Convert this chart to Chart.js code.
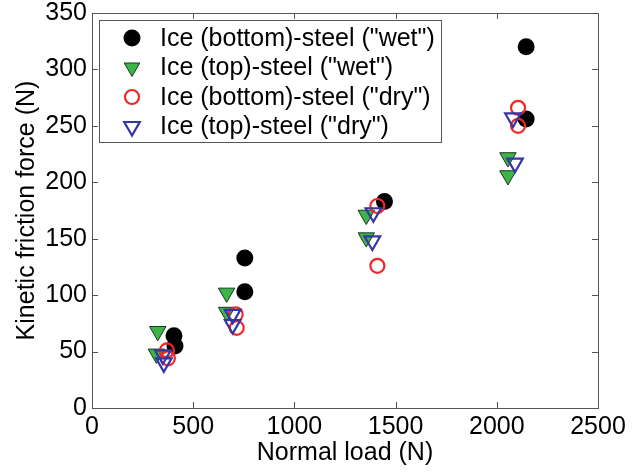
<!DOCTYPE html>
<html>
<head>
<meta charset="utf-8">
<script src="https://cdn.jsdelivr.net/npm/chart.js@4.4.0/dist/chart.umd.min.js"></script>
<style>
  html, body { margin: 0; padding: 0; background: #fff; }
  #wrap { width: 635px; height: 474px; }
</style>
</head>
<body>
<div id="wrap"><canvas id="frictionChart" width="635" height="474"></canvas></div>
<script>
// Data
const seriesNames = [
    'Ice (bottom)-steel ("wet")',
    'Ice (top)-steel ("wet")',
    'Ice (bottom)-steel ("dry")',
    'Ice (top)-steel ("dry")'
];
const bottomWetLoad = [405, 410, 755, 755, 1445, 2145, 2145];
const bottomWetForce = [64, 55, 133, 103, 183, 320, 256];
const topWetLoad = [325, 318, 665, 665, 1355, 1355, 2055, 2055];
const topWetForce = [68, 48, 102, 85, 171, 151, 222, 206];
const bottomDryLoad = [370, 375, 710, 715, 1410, 1410, 2105, 2105];
const bottomDryForce = [51, 44, 83, 71, 179, 126, 266, 250];
const topDryLoad = [350, 355, 695, 695, 1390, 1385, 2080, 2090];
const topDryForce = [47, 40, 83, 74, 173, 148, 257, 217];
const xTicks = [0, 500, 1000, 1500, 2000, 2500];
const yTicks = [0, 50, 100, 150, 200, 250, 300, 350];

const FONT = '"Liberation Sans", Arial, sans-serif';

function toPoints(xs, ys) {
    return xs.map((x, i) => ({ x: x, y: ys[i] }));
}

// inward ticks on all four sides plus the axes box
const boxTicks = {
    id: 'boxTicks',
    afterDatasetsDraw(chart) {
        const { ctx, chartArea: a, scales } = chart;
        const len = 6;
        ctx.save();
        ctx.strokeStyle = '#555';
        ctx.lineWidth = 1;
        ctx.beginPath();
        xTicks.forEach(v => {
            const px = Math.round(scales.x.getPixelForValue(v)) + 0.5;
            ctx.moveTo(px, a.bottom); ctx.lineTo(px, a.bottom - len);
            ctx.moveTo(px, a.top); ctx.lineTo(px, a.top + len);
        });
        yTicks.forEach(v => {
            const py = Math.round(scales.y.getPixelForValue(v)) + 0.5;
            ctx.moveTo(a.left, py); ctx.lineTo(a.left + len, py);
            ctx.moveTo(a.right, py); ctx.lineTo(a.right - len, py);
        });
        ctx.stroke();
        ctx.strokeRect(Math.round(a.left) + 0.5, Math.round(a.top) + 0.5,
            Math.round(a.right - a.left), Math.round(a.bottom - a.top));
        ctx.restore();
    }
};

// legend box in the upper left corner of the plot
const boxLegend = {
    id: 'boxLegend',
    afterDraw(chart) {
        const { ctx, chartArea: a } = chart;
        const bx = a.left + 7, by = a.top + 7, bw = 342, bh = 122;
        ctx.save();
        ctx.fillStyle = '#fff';
        ctx.fillRect(bx, by, bw, bh);
        ctx.strokeStyle = '#555';
        ctx.lineWidth = 1;
        ctx.strokeRect(Math.round(bx) + 0.5, Math.round(by) + 0.5, bw, bh);
        ctx.font = '25px ' + FONT;
        ctx.textBaseline = 'middle';
        ctx.textAlign = 'left';
        chart.data.datasets.forEach((ds, i) => {
            const cy = by + 18 + i * 29.5;
            const cx = bx + 33;
            ctx.save();
            ctx.fillStyle = ds.pointBackgroundColor;
            ctx.strokeStyle = ds.pointBorderColor;
            ctx.lineWidth = ds.pointBorderWidth;
            Chart.helpers.drawPoint(ctx, {
                pointStyle: ds.pointStyle,
                rotation: ds.pointRotation || 0,
                radius: ds.legendRadius,
                borderWidth: ds.pointBorderWidth
            }, cx, cy);
            ctx.restore();
            ctx.fillStyle = '#000';
            ctx.fillText(ds.label, bx + 61, cy + 1);
        });
        ctx.restore();
    }
};

const tickFont = { family: FONT, size: 25 };

new Chart(document.getElementById('frictionChart'), {
    type: 'scatter',
    data: {
        datasets: [{
            label: seriesNames[0],
            data: toPoints(bottomWetLoad, bottomWetForce),
            pointStyle: 'circle',
            pointRadius: 8.5,
            legendRadius: 8.5,
            pointBackgroundColor: '#000',
            pointBorderColor: '#000',
            pointBorderWidth: 0,
            order: 4
        }, {
            label: seriesNames[1],
            data: toPoints(topWetLoad, topWetForce),
            pointStyle: 'triangle',
            pointRotation: 180,
            pointRadius: 9.5,
            legendRadius: 9,
            pointBackgroundColor: '#3cb44a',
            pointBorderColor: '#1a3a1a',
            pointBorderWidth: 1,
            order: 3
        }, {
            label: seriesNames[2],
            data: toPoints(bottomDryLoad, bottomDryForce),
            pointStyle: 'circle',
            pointRadius: 7,
            legendRadius: 7,
            pointBackgroundColor: 'rgba(0,0,0,0)',
            pointBorderColor: '#f02828',
            pointBorderWidth: 2.2,
            order: 2
        }, {
            label: seriesNames[3],
            data: toPoints(topDryLoad, topDryForce),
            pointStyle: 'triangle',
            pointRotation: 180,
            pointRadius: 9,
            legendRadius: 9,
            pointBackgroundColor: 'rgba(0,0,0,0)',
            pointBorderColor: '#3535a5',
            pointBorderWidth: 2.2,
            order: 1
        }]
    },
    options: {
        responsive: false,
        animation: false,
        layout: { padding: { top: 0, right: 37, left: 0, bottom: 0 } },
        plugins: {
            legend: { display: false },
            tooltip: { enabled: false }
        },
        scales: {
            x: {
                type: 'linear',
                min: 0,
                max: 2500,
                afterBuildTicks: scale => { scale.ticks = xTicks.map(v => ({ value: v })); },
                afterFit: scale => {
                    scale.height = 66;
                    scale.paddingLeft = 0;
                    scale.paddingRight = 0;
                },
                grid: { display: false, drawTicks: false },
                border: { display: false },
                ticks: {
                    color: '#000',
                    font: tickFont,
                    padding: 4,
                    maxRotation: 0,
                    autoSkip: false,
                    callback: v => String(v)
                },
                title: {
                    display: true,
                    text: 'Normal load (N)',
                    color: '#000',
                    font: tickFont,
                    padding: { top: 0, bottom: 6 }
                }
            },
            y: {
                type: 'linear',
                min: 0,
                max: 350,
                afterBuildTicks: scale => { scale.ticks = yTicks.map(v => ({ value: v })); },
                afterFit: scale => {
                    scale.width = 92;
                    scale.paddingTop = 13;
                    scale.paddingBottom = 0;
                },
                grid: { display: false, drawTicks: false },
                border: { display: false },
                ticks: {
                    color: '#000',
                    font: tickFont,
                    padding: 5,
                    autoSkip: false,
                    callback: v => String(v)
                },
                title: {
                    display: true,
                    text: 'Kinetic friction force (N)',
                    color: '#000',
                    font: tickFont,
                    padding: { top: 12, bottom: 0 }
                }
            }
        }
    },
    plugins: [boxTicks, boxLegend]
});
</script>
</body>
</html>
